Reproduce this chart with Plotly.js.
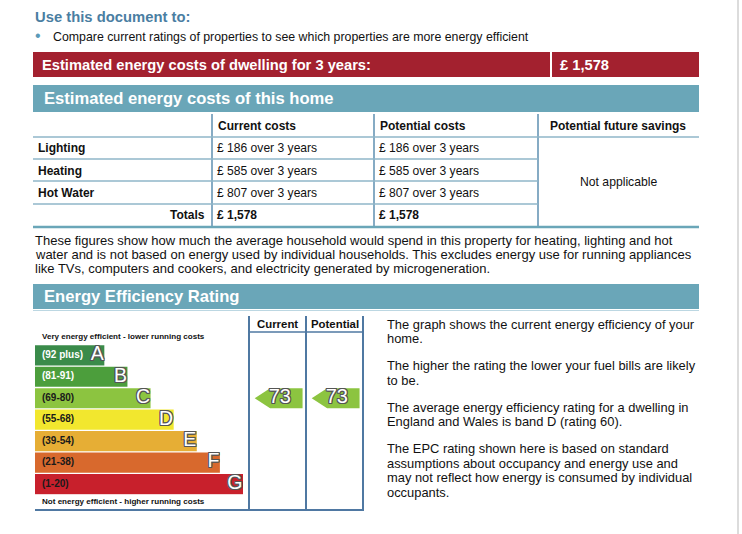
<!DOCTYPE html>
<html>
<head>
<meta charset="utf-8">
<script src="https://cdn.plot.ly/plotly-3.0.1.min.js"></script>
<style>html,body{margin:0;padding:0;background:#fff;}#chart{width:742px;height:534px;}</style>
</head>
<body>
<div id="chart"></div>
<script>
// ---------- data ----------
const costItems = ['Lighting', 'Heating', 'Hot Water'];
const currentCosts = [186, 585, 807];
const potentialCosts = [186, 585, 807];
const costYears = 3;
const totalCurrent = 1578;
const totalPotential = 1578;
const dwellingCost3yr = 1578;

const bandLetters = ['A', 'B', 'C', 'D', 'E', 'F', 'G'];
const bandRanges = ['(92 plus)', '(81-91)', '(69-80)', '(55-68)', '(39-54)', '(21-38)', '(1-20)'];
const bandMin = [92, 81, 69, 55, 39, 21, 1];
const bandSteps = [3, 4, 5, 6, 7, 8, 9];
const bandColors = ['#3a8b4a', '#4c9e3c', '#8cc440', '#f2e72e', '#e6ae35', '#d8692d', '#c8202c'];
const bandLabelColors = ['#ffffff', '#ffffff', '#1a1a1a', '#1a1a1a', '#1a1a1a', '#1a1a1a', '#1a1a1a'];

const ratingColumns = ['Current', 'Potential'];
const ratingValues = [73, 73];

const rightText = [
  ['The graph shows the current energy efficiency of your', 'home.'],
  ['The higher the rating the lower your fuel bills are likely', 'to be.'],
  ['The average energy efficiency rating for a dwelling in', 'England and Wales is band D (rating 60).'],
  ['The EPC rating shown here is based on standard', 'assumptions about occupancy and energy use and', 'may not reflect how energy is consumed by individual', 'occupants.']
];
const paraText = [
  'These figures show how much the average household would spend in this property for heating, lighting and hot',
  'water and is not based on energy used by individual households. This excludes energy use for running appliances',
  'like TVs, computers and cookers, and electricity generated by microgeneration.'
];

// ---------- helpers ----------
const W = 742, H = 534;
const FONT = 'Liberation Sans, Arial, sans-serif';
const px = x => x / W;
const py = y => 1 - y / H;
const fmt = v => '£ ' + v.toLocaleString('en-GB');
const shapes = [];
const ann = [];
function rect(x0, y0, x1, y1, color) {
  shapes.push({type: 'rect', xref: 'paper', yref: 'paper', x0: px(x0), x1: px(x1), y0: py(y0), y1: py(y1),
    fillcolor: color, line: {width: 0}, layer: 'below'});
}
function line(x0, y0, x1, y1, color, w) {
  shapes.push({type: 'line', xref: 'paper', yref: 'paper', x0: px(x0), x1: px(x1), y0: py(y0), y1: py(y1),
    line: {color: color, width: w}});
}
function txt(x, y, s, size, color, bold, anchor) {
  ann.push({xref: 'paper', yref: 'paper', x: px(x), y: py(y), text: bold ? '<b>' + s + '</b>' : s,
    showarrow: false, xanchor: anchor || 'left', yanchor: 'middle',
    font: {family: FONT, size: size, color: color}});
}

// ---------- header ----------
txt(33, 16.5, 'Use this document to:', 14.8, '#4a7ea2', true);
txt(33, 35.5, '•', 16, '#5b9ab8', false);
txt(51, 37, 'Compare current ratings of properties to see which properties are more energy efficient', 12.35, '#111', false);

rect(33, 52, 699, 77, '#a3212f');
line(551, 52, 551, 77, '#ffffff', 2);
txt(40, 64.5, 'Estimated energy costs of dwelling for ' + costYears + ' years:', 14.7, '#fff', true);
txt(558, 64.5, fmt(dwellingCost3yr), 14.7, '#fff', true);

rect(33, 85, 699, 112, '#6aa6b8');
txt(42, 98.5, 'Estimated energy costs of this home', 16.6, '#fff', true);

// ---------- cost table ----------
const tblLine = '#5e8fb0';
line(212, 114, 212, 226, tblLine, 1.5);
line(374, 114, 374, 226, tblLine, 1.5);
line(538, 114, 538, 226, tblLine, 1.5);
line(33, 137, 699, 137, '#8fb6c9', 1.5);
[159, 181, 204].forEach(y => line(33, y, 538, y, '#8fb6c9', 1.5));
line(33, 227, 699, 227, '#6aa6b8', 2.5);
txt(216, 126, 'Current costs', 12, '#111', true);
txt(378, 126, 'Potential costs', 12, '#111', true);
txt(548, 126, 'Potential future savings', 12, '#111', true);
const rowY = [148, 170.5, 193];
costItems.forEach((it, i) => {
  txt(36, rowY[i], it, 12, '#111', true);
  txt(215, rowY[i], fmt(currentCosts[i]) + ' over ' + costYears + ' years', 12.1, '#111', false);
  txt(377, rowY[i], fmt(potentialCosts[i]) + ' over ' + costYears + ' years', 12.1, '#111', false);
});
txt(207, 215.5, 'Totals', 12, '#111', true, 'right');
txt(215, 215.5, fmt(totalCurrent), 12, '#111', true);
txt(377, 215.5, fmt(totalPotential), 12, '#111', true);
txt(618, 182, 'Not applicable', 12.2, '#111', false, 'center');

paraText.forEach((s, i) => txt(33, 240 + i * 14.3, s, 13.0, '#111', false));

// ---------- rating section ----------
rect(33, 284, 699, 309, '#6aa6b8');
line(33, 310.5, 699, 310.5, '#bcd7e2', 1);
txt(42, 296.5, 'Energy Efficiency Rating', 16.6, '#fff', true);

const boxLine = '#4f78a2';
line(249, 316, 249, 510, boxLine, 2);
line(306, 316, 306, 510, boxLine, 2);
line(363, 316, 363, 510, boxLine, 2);
line(249, 332, 363, 332, boxLine, 1.5);
line(35, 510, 364, 510, boxLine, 2);
ratingColumns.forEach((c, i) => txt(249 + 57 * i + 28.5, 323.5, c, 11.4, '#111', true, 'center'));

txt(40, 336, 'Very energy efficient - lower running costs', 8.05, '#111', true);
txt(40, 501.5, 'Not energy efficient - higher running costs', 8.05, '#111', true);

let ry = 324;
rightText.forEach(par => {
  par.forEach(s => { txt(385, ry, s, 12.9, '#111', false); ry += 14.5; });
  ry += 12.5;
});

// right page edge
line(738, 0, 738, 534, '#d0d0d0', 1.5);

// ---------- traces ----------
const idx = bandLetters.map((_, i) => i);
const outline = '1px 1px 0 #555, -1px -1px 0 #555, 1px -1px 0 #555, -1px 1px 0 #555, 0 1px 0 #555, 0 -1px 0 #555, 1px 0 0 #555, -1px 0 0 #555';

const bars = {
  type: 'bar', orientation: 'h', x: bandSteps, y: idx, xaxis: 'x2', yaxis: 'y2',
  width: 0.94, marker: {color: bandColors, line: {width: 0}}, hoverinfo: 'skip'
};
const rangeLbl = {
  type: 'scatter', mode: 'text', x: idx.map(() => 0.3), y: idx, text: bandRanges,
  xaxis: 'x2', yaxis: 'y2', textposition: 'middle right',
  textfont: {family: FONT, size: 10, color: bandLabelColors, weight: 'bold'}, hoverinfo: 'skip'
};
const letterLbl = {
  type: 'scatter', mode: 'text', x: bandSteps.map(v => v - 0.02), y: idx, text: bandLetters,
  xaxis: 'x2', yaxis: 'y2', textposition: 'middle left',
  textfont: {family: FONT, size: 19.5, color: '#fff', shadow: outline}, hoverinfo: 'skip'
};

const arrowTraces = [];
const arrowX = [], arrowY = [], arrowT = [];
ratingValues.forEach((v, c) => {
  const b = bandMin.findIndex(m => v >= m);
  const h = 0.47;
  arrowTraces.push({
    type: 'scatter', mode: 'lines', fill: 'toself', fillcolor: bandColors[b],
    x: [c + 0.1, c + 0.37, c + 0.94, c + 0.94, c + 0.37, c + 0.1],
    y: [b, b - h, b - h, b + h, b + h, b],
    line: {width: 0, color: bandColors[b]}, xaxis: 'x3', yaxis: 'y2', hoverinfo: 'skip'
  });
  arrowX.push(c + 0.54); arrowY.push(b); arrowT.push(String(v));
});
const arrowLbl = {
  type: 'scatter', mode: 'text', x: arrowX, y: arrowY, text: arrowT, xaxis: 'x3', yaxis: 'y2',
  textposition: 'middle center', textfont: {family: FONT, size: 20, color: '#fff', shadow: outline}, hoverinfo: 'skip'
};

const yTop = 344.6, yBot = 494.8;
const layout = {
  width: W, height: H, margin: {l: 0, r: 0, t: 0, b: 0},
  paper_bgcolor: '#fff', plot_bgcolor: 'rgba(0,0,0,0)', showlegend: false,
  xaxis2: {domain: [px(35), px(243)], range: [0, 9], visible: false, fixedrange: true, anchor: 'y2'},
  yaxis2: {domain: [py(yBot), py(yTop)], range: [6.5, -0.5], visible: false, fixedrange: true, anchor: 'x2'},
  xaxis3: {domain: [px(249), px(363)], range: [0, 2], visible: false, fixedrange: true, anchor: 'y2'},
  shapes: shapes, annotations: ann
};
Plotly.newPlot('chart', [bars, ...arrowTraces, rangeLbl, letterLbl, arrowLbl], layout, {displayModeBar: false, staticPlot: true});
</script>
</body>
</html>
